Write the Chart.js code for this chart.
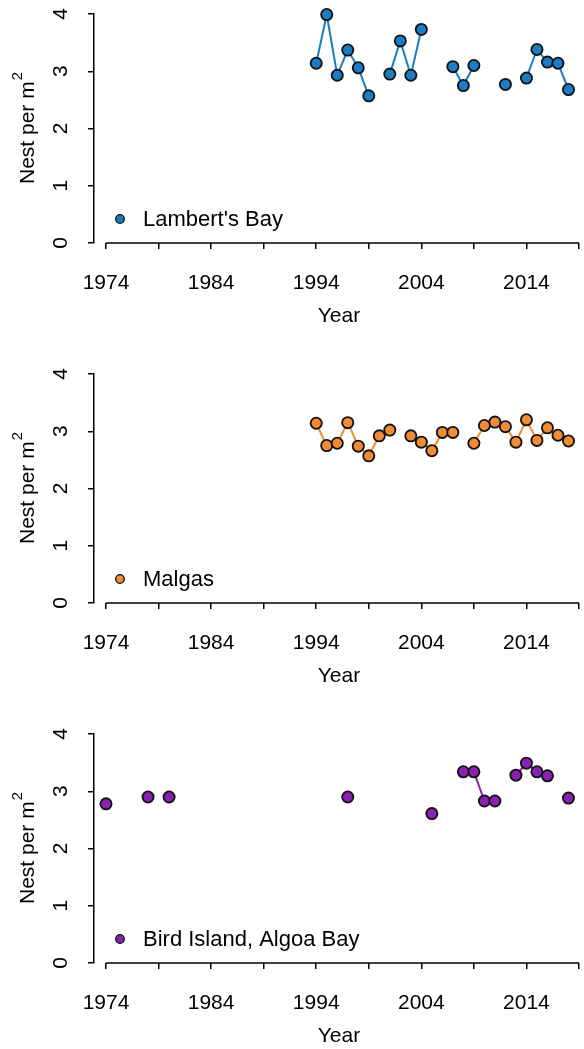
<!DOCTYPE html>
<html>
<head>
<meta charset="utf-8">
<script src="https://cdn.jsdelivr.net/npm/chart.js@4.4.1/dist/chart.umd.min.js"></script>
<style>
  html, body { margin: 0; padding: 0; background: #fff; }
  #wrap { position: relative; width: 584px; height: 1049px; overflow: hidden; }
  canvas { position: absolute; left: 0; }
</style>
</head>
<body>
<div id="wrap">
  <canvas id="lambert" width="584" height="329" style="top:0px"></canvas>
  <canvas id="malgas" width="584" height="329" style="top:360px"></canvas>
  <canvas id="bird" width="584" height="329" style="top:720px"></canvas>
</div>
<script>
// axis ticks
const xTicks    = [1974, 1979, 1984, 1989, 1994, 1999, 2004, 2009, 2014, 2019];
const xLabelled = [1974, 1984, 1994, 2004, 2014];
const yTicks    = [0, 1, 2, 3, 4];

// Lambert's Bay (null = no survey, breaks the line)
const lambertYears = [1994, 1995, 1996, 1997, 1998, 1999, 2000, 2001, 2002, 2003, 2004, 2005,
                      2007, 2008, 2009, 2010, 2012, 2013, 2014, 2015, 2016, 2017, 2018];
const lambertNests = [3.14, 3.99, 2.93, 3.37, 3.06, 2.57, null, 2.95, 3.53, 2.93, 3.73, null,
                      3.08, 2.75, 3.10, null, 2.77, null, 2.88, 3.38, 3.16, 3.14, 2.68];

// Malgas
const malgasYears = [1994, 1995, 1996, 1997, 1998, 1999, 2000, 2001, 2002, 2003, 2004, 2005,
                     2006, 2007, 2008, 2009, 2010, 2011, 2012, 2013, 2014, 2015, 2016, 2017, 2018];
const malgasNests = [3.14, 2.75, 2.79, 3.15, 2.74, 2.57, 2.92, 3.02, null, 2.92, 2.81, 2.66,
                     2.98, 2.98, null, 2.79, 3.10, 3.16, 3.08, 2.81, 3.20, 2.84, 3.06, 2.93, 2.83];

// Bird Island, Algoa Bay
const birdYears = [1974, 1975, 1978, 1979, 1980, 1981, 1997, 1998, 2005, 2006,
                   2008, 2009, 2010, 2011, 2012, 2013, 2014, 2015, 2016, 2017, 2018];
const birdNests = [2.78, null, 2.90, null, 2.90, null, 2.90, null, 2.61, null,
                   3.34, 3.34, 2.83, 2.83, null, 3.28, 3.49, 3.34, 3.27, null, 2.88];

// x limits so that 1974..2019 spans the drawn axis (R style extension)
const xMin = 1972.858;
const xMax = 2019.476;

const FONT = '"Liberation Sans", Arial, Helvetica, sans-serif';
Chart.defaults.font.family = FONT;
Chart.defaults.color = '#000';

const decor = {
  id: 'decor',
  afterDraw(chart, args, opts) {
    const { ctx, chartArea: area, scales: { x, y } } = chart;
    ctx.save();
    // x axis line from first to last tick
    ctx.strokeStyle = '#000';
    ctx.lineWidth = 1.5;
    ctx.beginPath();
    ctx.moveTo(x.getPixelForValue(xTicks[0]), area.bottom);
    ctx.lineTo(x.getPixelForValue(xTicks[xTicks.length - 1]), area.bottom);
    ctx.stroke();

    // y tick labels, rotated like R's las = 0
    ctx.fillStyle = '#000';
    ctx.font = '21px ' + FONT;
    ctx.textAlign = 'center';
    ctx.textBaseline = 'middle';
    yTicks.forEach(v => {
      ctx.save();
      ctx.translate(61, y.getPixelForValue(v));
      ctx.rotate(-Math.PI / 2);
      ctx.fillText(String(v), 0, 0);
      ctx.restore();
    });

    // y title with superscript
    const main = 'Nest per m', sup = '2';
    ctx.font = '21px ' + FONT;
    const w1 = ctx.measureText(main).width;
    ctx.font = '15px ' + FONT;
    const w2 = ctx.measureText(sup).width;
    ctx.save();
    ctx.translate(28, (area.top + area.bottom) / 2);
    ctx.rotate(-Math.PI / 2);
    ctx.textAlign = 'left';
    ctx.font = '21px ' + FONT;
    ctx.fillText(main, -(w1 + w2) / 2, 0);
    ctx.font = '15px ' + FONT;
    ctx.fillText(sup, -(w1 + w2) / 2 + w1 + 1, -10);
    ctx.restore();

    // legend inside the panel
    const lx = area.left + 26, ly = area.bottom - 24;
    ctx.beginPath();
    ctx.arc(lx, ly, 4.3, 0, Math.PI * 2);
    ctx.fillStyle = opts.color;
    ctx.fill();
    ctx.lineWidth = 1.3;
    ctx.strokeStyle = '#111';
    ctx.stroke();
    ctx.fillStyle = '#000';
    ctx.font = '22px ' + FONT;
    ctx.textAlign = 'left';
    ctx.textBaseline = 'middle';
    ctx.fillText(opts.label, area.left + 49, ly + 1);
    ctx.restore();
  }
};

function makePanel(id, label, color, years, nests) {
  const ctx = document.getElementById(id).getContext('2d');
  return new Chart(ctx, {
    type: 'line',
    data: {
      datasets: [{
        label,
        data: years.map((yr, i) => ({ x: yr, y: nests[i] })),
        borderColor: color,
        borderWidth: 2,
        pointBackgroundColor: color,
        pointBorderColor: '#111',
        pointBorderWidth: 1.8,
        pointRadius: 5.6,
        spanGaps: false,
        tension: 0,
        clip: false,
      }],
    },
    options: {
      responsive: false,
      animation: false,
      layout: { autoPadding: false, padding: { top: 14, right: 0, bottom: 0, left: 0 } },
      plugins: {
        legend: { display: false },
        tooltip: { enabled: false },
        decor: { label, color },
      },
      scales: {
        x: {
          type: 'linear',
          min: xMin,
          max: xMax,
          afterBuildTicks: s => { s.ticks = xTicks.map(v => ({ value: v })); },
          afterFit: s => { s.height = 86; s.paddingLeft = 0; s.paddingRight = 0; },
          grid: { drawOnChartArea: false, drawTicks: true, tickLength: 6, color: '#000', lineWidth: 1.5 },
          border: { display: false },
          ticks: {
            autoSkip: false,
            maxRotation: 0,
            padding: 22,
            color: '#000',
            font: { size: 21 },
            callback: v => xLabelled.includes(v) ? String(v) : '',
          },
          title: { display: true, text: 'Year', color: '#000', font: { size: 21 }, padding: { top: 0, bottom: 0 } },
        },
        y: {
          min: 0,
          max: 4,
          afterBuildTicks: s => { s.ticks = yTicks.map(v => ({ value: v })); },
          afterFit: s => { s.width = 94; s.paddingTop = 0; s.paddingBottom = 0; },
          grid: { drawOnChartArea: false, drawTicks: true, tickLength: 6, color: '#000', lineWidth: 1.5 },
          border: { display: true, color: '#000', width: 1.5 },
          ticks: { display: false },
        },
      },
    },
    plugins: [decor],
  });
}

makePanel('lambert', "Lambert's Bay", '#1a7dc4', lambertYears, lambertNests);
makePanel('malgas', 'Malgas', '#f28b35', malgasYears, malgasNests);
makePanel('bird', 'Bird Island, Algoa Bay', '#8b1fb0', birdYears, birdNests);
</script>
</body>
</html>
